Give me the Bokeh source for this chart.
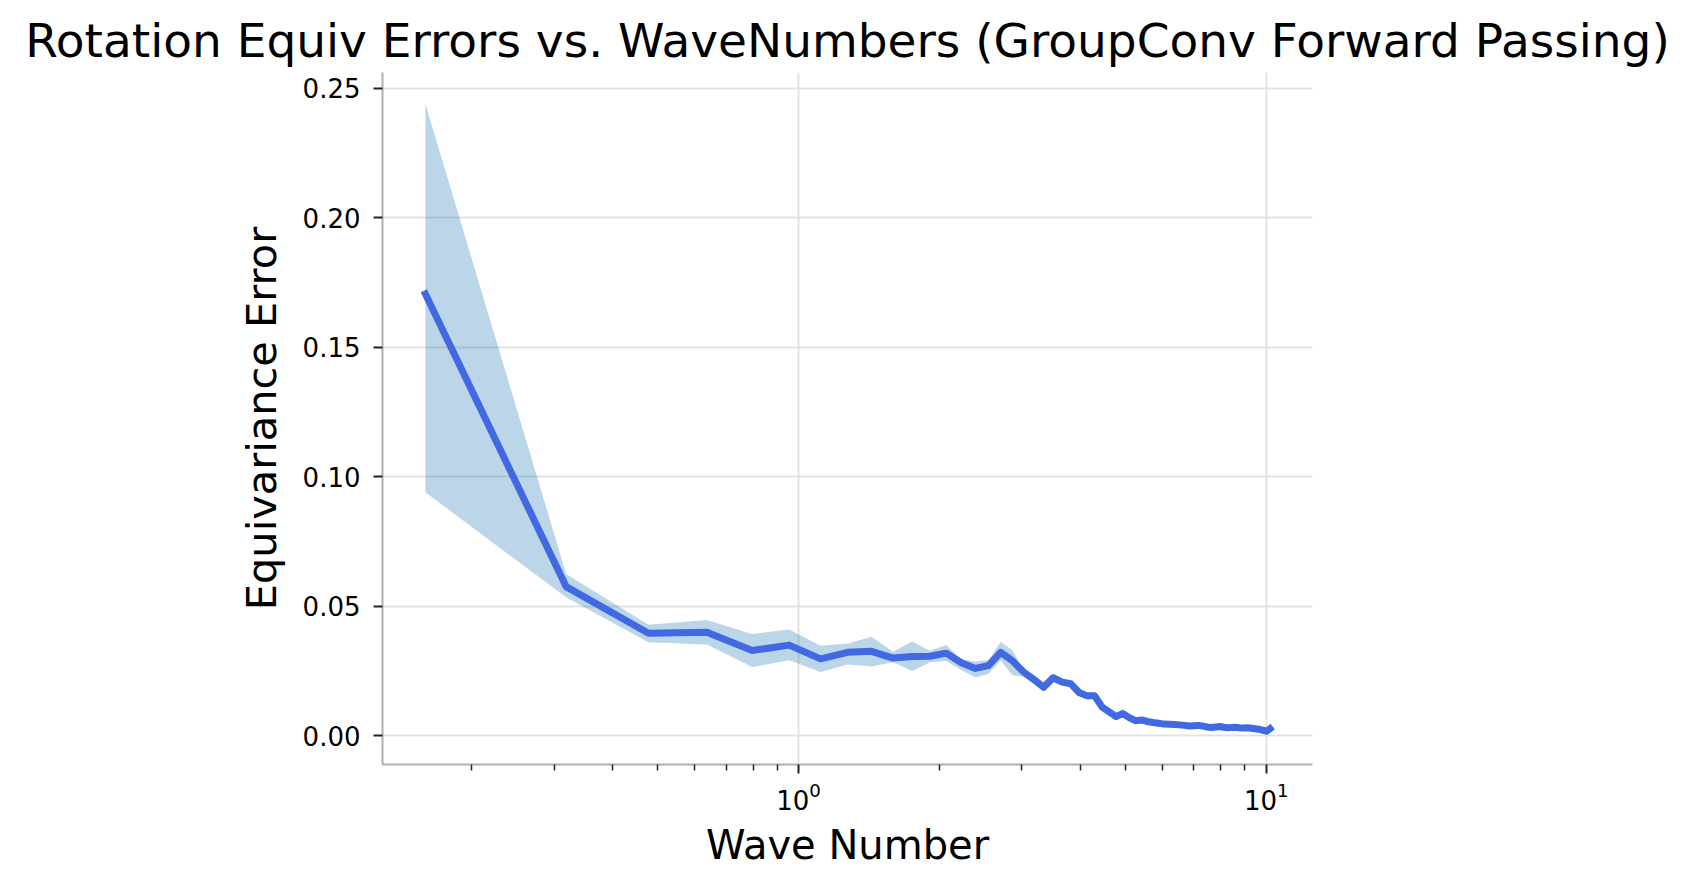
from bokeh.plotting import figure
from bokeh.models import Range1d, FixedTicker, NumeralTickFormatter, LogTickFormatter
from bokeh.embed import file_html
from bokeh.resources import INLINE

# Wave numbers (k / 2pi for k = 1..64)
wave_numbers = [0.1592, 0.3183, 0.4775, 0.6366, 0.7958, 0.9549, 1.1141, 1.2732,
                1.4324, 1.5915, 1.7507, 1.9099, 2.0690, 2.2282, 2.3873, 2.5465,
                2.7056, 2.8648, 3.0239, 3.1831, 3.3423, 3.5014, 3.6606, 3.8197,
                3.9789, 4.1380, 4.2972, 4.4563, 4.6155, 4.7746, 4.9338, 5.0930,
                5.2521, 5.4113, 5.5704, 5.7296, 5.8887, 6.0479, 6.2070, 6.3662,
                6.5254, 6.6845, 6.8437, 7.0028, 7.1620, 7.3211, 7.4803, 7.6394,
                7.7986, 7.9577, 8.1169, 8.2761, 8.4352, 8.5944, 8.7535, 8.9127,
                9.0718, 9.2310, 9.3901, 9.5493, 9.7085, 9.8676, 10.0268, 10.1859]

mean_error = [0.1706, 0.0576, 0.0396, 0.0400, 0.0329, 0.0350, 0.0297, 0.0322,
              0.0326, 0.0300, 0.0306, 0.0307, 0.0319, 0.0282, 0.0260, 0.0271,
              0.0322, 0.0290, 0.0247, 0.0218, 0.0187, 0.0224, 0.0207, 0.0201,
              0.0167, 0.0154, 0.0154, 0.0111, 0.0092, 0.0074, 0.0086, 0.0070,
              0.0058, 0.0061, 0.0055, 0.0051, 0.0048, 0.0045, 0.0044, 0.0043,
              0.0042, 0.0040, 0.0038, 0.0039, 0.0040, 0.0037, 0.0034, 0.0032,
              0.0034, 0.0036, 0.0033, 0.0031, 0.0032, 0.0033, 0.0031, 0.0030,
              0.0031, 0.0030, 0.0028, 0.0026, 0.0024, 0.0021, 0.0017, 0.0027]

upper_error = [0.2440, 0.0625, 0.0429, 0.0447, 0.0393, 0.0410, 0.0348, 0.0356,
               0.0382, 0.0324, 0.0364, 0.0328, 0.0350, 0.0295, 0.0287, 0.0292,
               0.0363, 0.0330, 0.0258, 0.0232, 0.0197, 0.0238, 0.0220, 0.0212,
               0.0176, 0.0161, 0.0160, 0.0117, 0.0097, 0.0078, 0.0090, 0.0074,
               0.0061, 0.0064, 0.0058, 0.0053, 0.0050, 0.0047, 0.0046, 0.0045,
               0.0044, 0.0042, 0.0040, 0.0041, 0.0042, 0.0039, 0.0036, 0.0034,
               0.0036, 0.0038, 0.0035, 0.0033, 0.0034, 0.0035, 0.0033, 0.0032,
               0.0033, 0.0032, 0.0030, 0.0028, 0.0026, 0.0023, 0.0019, 0.0029]

lower_error = [0.0940, 0.0535, 0.0361, 0.0352, 0.0265, 0.0292, 0.0246, 0.0275,
               0.0267, 0.0284, 0.0250, 0.0284, 0.0289, 0.0254, 0.0225, 0.0238,
               0.0292, 0.0234, 0.0228, 0.0200, 0.0174, 0.0214, 0.0196, 0.0192,
               0.0160, 0.0148, 0.0149, 0.0106, 0.0088, 0.0071, 0.0083, 0.0067,
               0.0055, 0.0058, 0.0052, 0.0049, 0.0046, 0.0043, 0.0042, 0.0041,
               0.0040, 0.0038, 0.0036, 0.0037, 0.0038, 0.0035, 0.0032, 0.0030,
               0.0032, 0.0034, 0.0031, 0.0029, 0.0030, 0.0031, 0.0029, 0.0028,
               0.0029, 0.0028, 0.0026, 0.0024, 0.0022, 0.0019, 0.0015, 0.0025]

x_major_ticks = [1, 10]
x_minor_ticks = [0.2, 0.3, 0.4, 0.5, 0.6, 0.7, 0.8, 0.9, 2, 3, 4, 5, 6, 7, 8, 9]
y_ticks = [0.0, 0.05, 0.10, 0.15, 0.20, 0.25]

FONT = "DejaVu Sans"

p = figure(width=1677, height=875, x_axis_type="log",
           output_backend="svg", toolbar_location=None,
           x_range=Range1d(0.1289, 12.56), y_range=Range1d(-0.0111, 0.2561),
           min_border_left=382, min_border_right=365,
           min_border_top=72, min_border_bottom=111,
           title="Rotation Equiv Errors vs. WaveNumbers (GroupConv Forward Passing)")

p.title.align = "center"
p.title.text_font = FONT
p.title.text_font_size = "47px"
p.title.text_font_style = "normal"
p.title.text_color = "black"
p.title.standoff = 10

p.outline_line_color = None
p.background_fill_color = "white"
p.border_fill_color = "white"

p.varea(x=wave_numbers, y1=lower_error, y2=upper_error,
        fill_color="#1f77b4", fill_alpha=0.3)
p.line(x=wave_numbers, y=mean_error, line_color="#4169e1", line_width=7,
       line_join="round", line_cap="square")

# axes
xa = p.xaxis[0]
xa.ticker = FixedTicker(ticks=x_major_ticks, minor_ticks=x_minor_ticks)
xa.formatter = LogTickFormatter()
ya = p.yaxis[0]
ya.ticker = FixedTicker(ticks=y_ticks)
ya.formatter = NumeralTickFormatter(format="0.00")

for ax in (xa, ya):
    ax.axis_line_color = "#b0b0b0"
    ax.axis_line_width = 2
    ax.major_tick_line_color = "#222222"
    ax.major_tick_line_width = 2
    ax.major_tick_out = 9
    ax.major_tick_in = 0
    ax.major_label_text_font = FONT
    ax.major_label_text_font_size = "26px"
    ax.major_label_text_color = "black"
    ax.axis_label_text_font = FONT
    ax.axis_label_text_font_style = "normal"
    ax.axis_label_text_color = "black"

ya.major_label_standoff = 13
ya.axis_label_standoff = 14
ya.axis_label_text_font_size = "41.5px"
xa.major_label_standoff = 8
xa.axis_label_standoff = 9
xa.axis_label_text_font_size = "40px"

xa.minor_tick_line_color = "#222222"
xa.minor_tick_line_width = 1.5
xa.minor_tick_out = 6
xa.minor_tick_in = 0
ya.minor_tick_line_color = None

xa.axis_label = "Wave Number"
ya.axis_label = "Equivariance Error"

for g in (p.xgrid[0], p.ygrid[0]):
    g.grid_line_color = "#e3e3e3"
    g.grid_line_width = 2
p.xgrid[0].minor_grid_line_color = None

open("out.html", "w").write(file_html(p, INLINE))
